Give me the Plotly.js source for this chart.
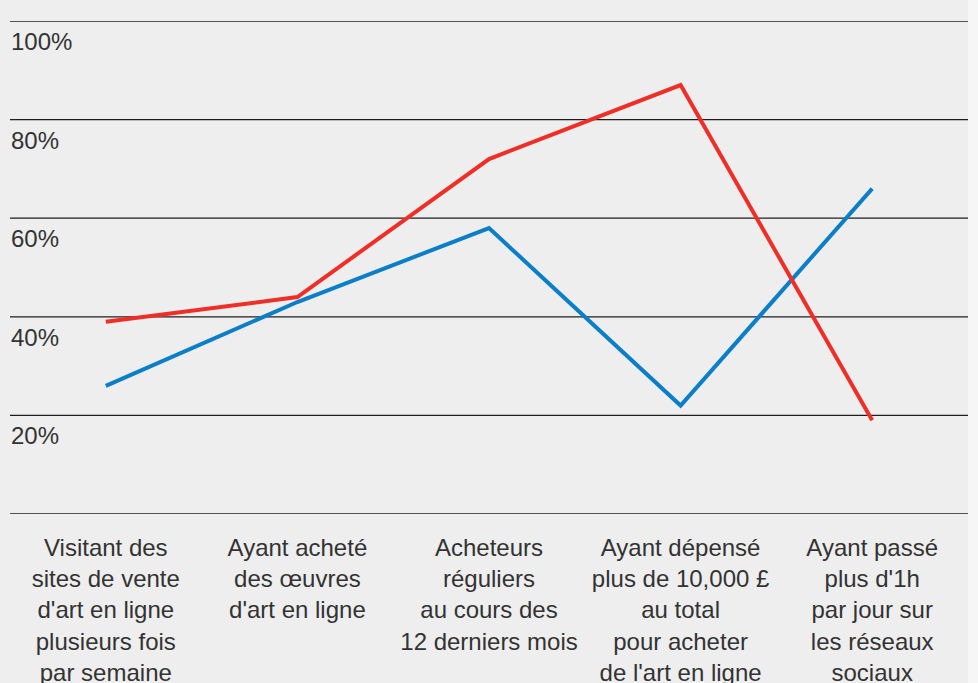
<!DOCTYPE html>
<html>
<head>
<meta charset="utf-8">
<script src="https://cdn.plot.ly/plotly-3.0.1.min.js"></script>
<style>
html,body{margin:0;padding:0;background:#f6f6f6;}
#chart{width:968px;height:683px;}
</style>
</head>
<body>
<div id="chart"></div>
<script>
const categories = [
  "Visitant des<br>sites de vente<br>d'art en ligne<br>plusieurs fois<br>par semaine",
  "Ayant acheté<br>des œuvres<br>d'art en ligne",
  "Acheteurs<br>réguliers<br>au cours des<br>12 derniers mois",
  "Ayant dépensé<br>plus de 10,000 £<br>au total<br>pour acheter<br>de l'art en ligne",
  "Ayant passé<br>plus d'1h<br>par jour sur<br>les réseaux<br>sociaux"
];
const redValues = [39, 44, 72, 87, 19];
const blueValues = [26, 43, 58, 22, 66];
const yTickVals = [0, 20, 40, 60, 80, 100];
const yTickText = ["", "20%", "40%", "60%", "80%", "100%"];

const font = "Liberation Sans, Arial, Helvetica, sans-serif";

const traces = [
  {x: categories, y: blueValues, type: "scatter", mode: "lines",
   line: {color: "#0a7fc7", width: 4}, hoverinfo: "skip", cliponaxis: false},
  {x: categories, y: redValues, type: "scatter", mode: "lines",
   line: {color: "#ef2f27", width: 4}, hoverinfo: "skip", cliponaxis: false}
];

const annotations = yTickVals.map((v, i) => ({
  xref: "paper", yref: "y", x: 0, y: v, text: yTickText[i],
  showarrow: false, xanchor: "left", yanchor: "top", yshift: -5, xshift: -1,
  font: {family: font, size: 24, color: "#333333"}
})).filter(a => a.text !== "");

const gridShapes = yTickVals.map(v => ({
  type: "line", xref: "paper", yref: "y", x0: 0, x1: 1, y0: v, y1: v,
  line: {color: "#1e1e1e", width: 1.3}, layer: "below"
}));

const layout = {
  width: 968, height: 683,
  paper_bgcolor: "#eeeeee", plot_bgcolor: "#eeeeee",
  margin: {l: 10, r: 0, t: 21, b: 169},
  showlegend: false,
  font: {family: font, size: 24, color: "#333333"},
  xaxis: {
    type: "category", range: [-0.5, 4.5], showgrid: false, zeroline: false,
    showline: false, ticks: "", ticklabelstandoff: 17,
    tickfont: {family: font, size: 24, color: "#333333"}
  },
  yaxis: {
    range: [0, 100], showticklabels: false,
    showgrid: false, zeroline: false, showline: false, ticks: ""
  },
  shapes: gridShapes,
  annotations: annotations
};

Plotly.newPlot("chart", traces, layout, {displayModeBar: false, staticPlot: true});
</script>
</body>
</html>
